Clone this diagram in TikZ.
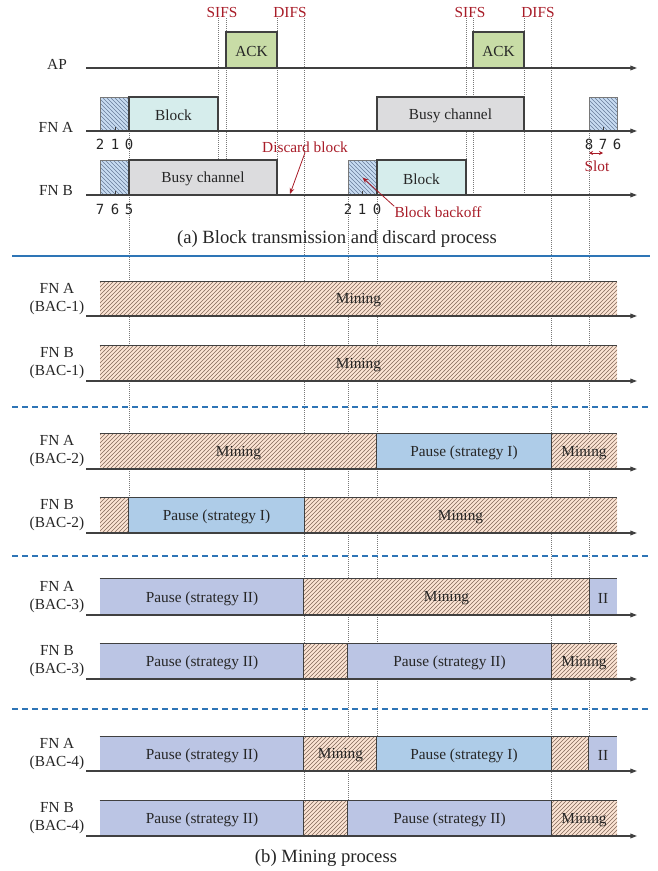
\documentclass[tikz,border=0pt]{standalone}
\usepackage{fontspec}
\setmainfont{Liberation Serif}
\newfontfamily\digitfont{DejaVu Sans Mono}
\usetikzlibrary{fit,patterns,arrows.meta}

\definecolor{axisgray}{RGB}{64,64,64}
\definecolor{guidegray}{RGB}{120,120,120}
\definecolor{inkgray}{RGB}{38,38,38}
\definecolor{notered}{RGB}{168,28,40}
\definecolor{sepblue}{RGB}{46,117,182}
\definecolor{minefill}{RGB}{252,228,212}
\definecolor{minehatch}{RGB}{130,105,90}
\definecolor{pauseone}{RGB}{174,204,232}
\definecolor{pausetwo}{RGB}{187,197,228}
\definecolor{blockfill}{RGB}{214,237,236}
\definecolor{busyfill}{RGB}{220,220,222}
\definecolor{ackfill}{RGB}{200,220,166}
\definecolor{backfill}{RGB}{200,220,242}
\definecolor{backhatch}{RGB}{105,125,155}

\begin{document}
\begin{tikzpicture}[x=0.75pt, y=-0.75pt]
  \useasboundingbox (0,0) rectangle (657,871);  % Rand wie im Original.

  \tikzstyle{lbl}=[align=center, text=inkgray, font=\fontsize{11.5}{13}\selectfont, inner sep=0pt]
  \tikzstyle{caption}=[text=inkgray, font=\fontsize{14}{16}\selectfont, inner sep=0pt]
  \tikzstyle{note}=[text=notered, font=\fontsize{11.5}{13}\selectfont, inner sep=0pt]
  \tikzstyle{digit}=[text=inkgray, font=\digitfont\fontsize{10.5}{12}\selectfont, inner sep=0pt]
  \tikzstyle{segtext}=[text=inkgray, font=\fontsize{11.5}{13}\selectfont, inner sep=0pt, yshift=-1pt]
  \tikzstyle{seg}=[inner sep=0pt]
  \tikzstyle{framed}=[seg, draw=axisgray, line width=0.8pt]
  \tikzstyle{block}=[framed, fill=blockfill]
  \tikzstyle{busy}=[framed, fill=busyfill]
  \tikzstyle{ack}=[framed, fill=ackfill]
  \tikzstyle{backoff}=[seg, draw=guidegray, line width=0.5pt, preaction={fill=backfill}, pattern=north west lines, pattern color=backhatch]
  \tikzstyle{mine}=[seg, preaction={fill=minefill}, pattern=north east lines, pattern color=minehatch]
  \tikzstyle{pausei}=[seg, fill=pauseone]
  \tikzstyle{pauseii}=[seg, fill=pausetwo]
  \tikzstyle{rim}=[draw=axisgray, line width=0.8pt]
  \tikzstyle{axis}=[draw=axisgray, line width=0.9pt, -{Triangle[length=5pt, width=3.5pt]}]
  \tikzstyle{guide}=[draw=guidegray, line width=0.5pt, densely dotted]
  \tikzstyle{sepline}=[draw=sepblue, line width=0.9pt]
  \tikzstyle{pointer}=[draw=notered, line width=0.6pt, -{Stealth[length=4.5pt, width=3.5pt]}]

  % Hilfslinien (hinter allem)
  \draw[guide] (218,18) -- (218,160);
  \draw[guide] (226,18) -- (226,160);
  \draw[guide] (277,18) -- (277,195);
  \draw[guide] (304,18) -- (304,836);
  \draw[guide] (466,18) -- (466,195);
  \draw[guide] (473,18) -- (473,195);
  \draw[guide] (524,18) -- (524,195);
  \draw[guide] (551,18) -- (551,836);
  \draw[guide] (129,131) -- (129,533);
  \draw[guide] (589,131) -- (589,771);
  \draw[guide] (348,195) -- (348,836);
  \draw[guide] (377,195) -- (377,771);

  \node[note] (sifs1) at (222,12) {SIFS};
  \node[note] (difs1) at (290,12) {DIFS};
  \node[note] (sifs2) at (470,12) {SIFS};
  \node[note] (difs2) at (538,12) {DIFS};

  % (a) Uebertragung
  \node[lbl] (ap)  at (57,64)  {AP};
  \node[lbl] (fna) at (56,127) {FN A};
  \node[lbl] (fnb) at (56,190) {FN B};

  \node[ack, fit={(226,32) (277,68)}, label={[segtext]center:ACK}] (ack1) {};
  \node[ack, fit={(473,32) (524,68)}, label={[segtext]center:ACK}] (ack2) {};

  \node[backoff, fit={(100,97) (129,131)}]  (boA1)  {};
  \node[block,   fit={(129,97) (218,131)}, label={[segtext]center:Block}]  (blkA)  {};
  \node[busy,    fit={(377,97) (524,131)}, label={[segtext]center:Busy channel}]  (busyA) {};
  \node[backoff, fit={(589,97) (617,131)}]  (boA2)  {};

  \node[backoff, fit={(100,160) (129,195)}] (boB1)  {};
  \node[busy,    fit={(129,160) (277,195)}, label={[segtext]center:Busy channel}] (busyB) {};
  \node[backoff, fit={(348,160) (377,195)}] (boB2)  {};
  \node[block,   fit={(377,160) (466,195)}, label={[segtext]center:Block}] (blkB)  {};

  \foreach \y in {68,131,195}
    \draw[axis] (86,\y) -- (637,\y);
  \draw[axisgray, line width=0.6pt] (115,131) -- (115,127) (115,195) -- (115,191)
    (362,195) -- (362,191) (603,131) -- (603,127);

  \node[digit] (dA2) at (100,144) {2};
  \node[digit] (dA1) at (115,144) {1};
  \node[digit] (dA0) at (129,144) {0};
  \node[digit] (dA8) at (589,144) {8};
  \node[digit] (dA7) at (603,144) {7};
  \node[digit] (dA6) at (617,144) {6};
  \node[digit] (dB7) at (100,209) {7};
  \node[digit] (dB6) at (115,209) {6};
  \node[digit] (dB5) at (129,209) {5};
  \node[digit] (dB2) at (348,209) {2};
  \node[digit] (dB1) at (362,209) {1};
  \node[digit] (dB0) at (377,209) {0};

  \node[note] (discard) at (305,147) {Discard block};
  \coordinate (drop) at (290,194);
  \draw[pointer] (discard.south) -- (drop);
  \node[note] (bbo) at (438,212) {Block backoff};
  \draw[pointer] (bbo.north west) -- (boB2.center);
  \node[note] (slot) at (597,166) {Slot};
  \coordinate (slotL) at (589,153);
  \coordinate (slotR) at (603,153);
  \draw[pointer, {Stealth[length=3pt, width=3pt]}-{Stealth[length=3pt, width=3pt]}, line width=0.5pt] (slotL) -- (slotR);

  \node[caption] (capa) at (337,239) {(a) Block transmission and discard process};

  % Trennlinien
  \draw[sepline] (12,256) -- (650,256);
  \foreach \y in {407,556,709}
    \draw[sepline, dash pattern=on 4.5pt off 3pt] (12,\y) -- (650,\y);

  % (b) Mining
  \node[lbl] (r1) at (57,299) {FN A\\(BAC-1)};
  \node[mine, fit={(100,282) (617,316)}, label={[segtext]center:Mining}] (r1a) {};
  \draw[rim] (r1a.north west) -- (r1a.north east);

  \node[lbl] (r2) at (57,363) {FN B\\(BAC-1)};
  \node[mine, fit={(100,346) (617,381)}, label={[segtext]center:Mining}] (r2a) {};
  \draw[rim] (r2a.north west) -- (r2a.north east);

  \node[lbl] (r3) at (57,451) {FN A\\(BAC-2)};
  \node[mine,   fit={(100,434) (377,469)}, label={[segtext]center:Mining}] (r3a) {};
  \node[pausei, fit={(377,434) (551,469)}, label={[segtext]center:Pause (strategy I)}] (r3b) {};
  \node[mine,   fit={(551,434) (617,469)}, label={[segtext]center:Mining}] (r3c) {};
  \draw[rim] (r3a.north west) -- (r3c.north east);
  \draw[rim] (r3b.north west) -- (r3b.south west) (r3b.north east) -- (r3b.south east);

  \node[lbl] (r4) at (57,515) {FN B\\(BAC-2)};
  \node[mine,   fit={(100,498) (129,533)}] (r4a) {};
  \node[pausei, fit={(129,498) (304,533)}, label={[segtext]center:Pause (strategy I)}] (r4b) {};
  \node[mine,   fit={(304,498) (617,533)}, label={[segtext]center:Mining}] (r4c) {};
  \draw[rim] (r4a.north west) -- (r4c.north east);
  \draw[rim] (r4b.north west) -- (r4b.south west) (r4b.north east) -- (r4b.south east);

  \node[lbl] (r5) at (57,597) {FN A\\(BAC-3)};
  \node[pauseii, fit={(100,579) (304,615)}, label={[segtext]center:Pause (strategy II)}] (r5a) {};
  \node[mine,    fit={(304,579) (589,615)}, label={[segtext]center:Mining}] (r5b) {};
  \node[pauseii, fit={(589,579) (617,615)}, label={[segtext]center:II}] (r5c) {};
  \draw[rim] (r5a.north west) -- (r5c.north east);
  \draw[rim] (r5b.north west) -- (r5b.south west) (r5b.north east) -- (r5b.south east);

  \node[lbl] (r6) at (57,661) {FN B\\(BAC-3)};
  \node[pauseii, fit={(100,644) (304,679)}, label={[segtext]center:Pause (strategy II)}] (r6a) {};
  \node[mine,    fit={(304,644) (348,679)}] (r6b) {};
  \node[pauseii, fit={(348,644) (551,679)}, label={[segtext]center:Pause (strategy II)}] (r6c) {};
  \node[mine,    fit={(551,644) (617,679)}, label={[segtext]center:Mining}] (r6d) {};
  \draw[rim] (r6a.north west) -- (r6d.north east);
  \draw[rim] (r6b.north west) -- (r6b.south west) (r6c.north west) -- (r6c.south west)
    (r6c.north east) -- (r6c.south east);

  \node[lbl] (r7) at (57,754) {FN A\\(BAC-4)};
  \node[pauseii, fit={(100,737) (304,771)}, label={[segtext]center:Pause (strategy II)}] (r7a) {};
  \node[mine,    fit={(304,737) (377,771)}, label={[segtext]center:Mining}] (r7b) {};
  \node[pausei,  fit={(377,737) (551,771)}, label={[segtext]center:Pause (strategy I)}] (r7c) {};
  \node[mine,    fit={(551,737) (589,771)}] (r7d) {};
  \node[pauseii, fit={(589,737) (617,771)}, label={[segtext]center:II}] (r7e) {};
  \draw[rim] (r7a.north west) -- (r7e.north east);
  \draw[rim] (r7b.north west) -- (r7b.south west) (r7c.north west) -- (r7c.south west)
    (r7c.north east) -- (r7c.south east) (r7e.north west) -- (r7e.south west);

  \node[lbl] (r8) at (57,818) {FN B\\(BAC-4)};
  \node[pauseii, fit={(100,801) (304,836)}, label={[segtext]center:Pause (strategy II)}] (r8a) {};
  \node[mine,    fit={(304,801) (348,836)}] (r8b) {};
  \node[pauseii, fit={(348,801) (551,836)}, label={[segtext]center:Pause (strategy II)}] (r8c) {};
  \node[mine,    fit={(551,801) (617,836)}, label={[segtext]center:Mining}] (r8d) {};
  \draw[rim] (r8a.north west) -- (r8d.north east);
  \draw[rim] (r8b.north west) -- (r8b.south west) (r8c.north west) -- (r8c.south west)
    (r8c.north east) -- (r8c.south east);

  \foreach \y in {316,381,469,533,615,679,771,836}
    \draw[axis] (86,\y) -- (637,\y);

  \node[caption] (capb) at (326,858) {(b) Mining process};
\end{tikzpicture}
\end{document}
